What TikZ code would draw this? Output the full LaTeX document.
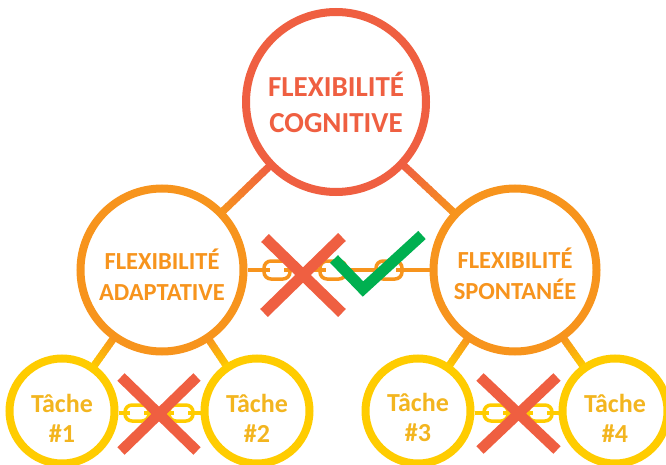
\documentclass[tikz,border=0pt]{standalone}
\usepackage{fontspec}
\setmainfont{Carlito}
\usetikzlibrary{calc,backgrounds}

\definecolor{cogred}{HTML}{EF5F41}
\definecolor{flexorange}{HTML}{F7941D}
\definecolor{taskyellow}{HTML}{FFCC00}
\definecolor{taskgold}{HTML}{F3B51F}
\definecolor{okgreen}{HTML}{00B050}

% invisible strut to push a first line down
\newcommand{\tallline}[1]{\rule{0pt}{#1}}

% shaded bar from node #1 (radius #2) to node #3 (radius #4), colour #5 to #6
\newcommand{\bond}[6]{%
  \coordinate (bA) at ($(#1)!#2!(#3)$);
  \coordinate (bB) at ($(#3)!#4!(#1)$);
  \foreach \k in {0,...,11}{
    \pgfmathtruncatemacro\pc{100*\k/11}
    \draw[line width=7.5pt,draw=#6!\pc!#5]
      ($(bA)!\k/12!(bB)$) -- ($(bA)!\k/12+0.1!(bB)$);
  }
}

\begin{document}
\begin{tikzpicture}[x=1pt,y=-1pt,
  every node/.style={font=\bfseries},
  bubble/.style={circle,draw,line width=8pt,fill=white,align=center,inner sep=0pt},
  cogbubble/.style={bubble,draw=cogred,text=cogred,minimum size=180pt,
    font=\bfseries\fontsize{29}{36}\selectfont},
  flexbubble/.style={bubble,draw=flexorange,text=flexorange,minimum size=163pt,
    font=\bfseries\fontsize{24.5}{31}\selectfont},
  taskbubble/.style={bubble,draw=taskyellow,text=taskgold,minimum size=105pt,
    font=\bfseries\fontsize{26}{30}\selectfont},
  link/.style={rectangle,rounded corners=7pt,draw,fill=white,line width=3.5pt,
    minimum width=26pt,minimum height=18pt,inner sep=0pt},
  smalllink/.style={link,minimum width=24pt,minimum height=16pt},
  chainline/.style={line width=3.5pt},
  markline/.style={line width=11pt,cogred}
]
  \useasboundingbox (0,0) rectangle (666,465);

  \node[cogbubble] (cog) at (336,102) {FLEXIBILITÉ\\COGNITIVE};
  \node[flexbubble] (ada) at (162,270) {\tallline{29pt}FLEXIBILITÉ\\ADAPTATIVE};
  \node[flexbubble] (spo) at (515,270) {\tallline{29pt}FLEXIBILITÉ\\SPONTANÉE};
  \node[taskbubble] (t1) at (62,411) {\tallline{32pt}Tâche\\\#1};
  \node[taskbubble] (t2) at (257,411) {\tallline{32pt}Tâche\\\#2};
  \node[taskbubble] (t3) at (418,411) {\tallline{32pt}Tâche\\\#3};
  \node[taskbubble] (t4) at (615,411) {\tallline{32pt}Tâche\\\#4};

  \begin{scope}[on background layer]
    \bond{cog}{90pt}{ada}{81pt}{cogred}{flexorange}
    \bond{cog}{90pt}{spo}{81pt}{cogred}{flexorange}
    \bond{ada}{81pt}{t1}{52pt}{flexorange}{taskyellow}
    \bond{ada}{81pt}{t2}{52pt}{flexorange}{taskyellow}
    \bond{spo}{81pt}{t3}{52pt}{flexorange}{taskyellow}
    \bond{spo}{81pt}{t4}{52pt}{flexorange}{taskyellow}
    \draw[chainline,flexorange] (ada) -- (spo);
    \draw[chainline,taskyellow] ([yshift=-2pt]t1.east) -- ([yshift=-2pt]t2.west);
    \draw[chainline,taskyellow] ([yshift=-2pt]t3.east) -- ([yshift=-2pt]t4.west);
  \end{scope}

  % chain links
  \node[link,draw=flexorange] (m1) at (277,270) {};
  \node[link,draw=flexorange] (m2) at (333,270) {};
  \node[link,draw=flexorange] (m3) at (389,270) {};
  \foreach \l in {m1,m2,m3}
    \draw[chainline,flexorange] (\l.west) -- ++(8,0) (\l.east) -- ++(-8,0);
  \node[smalllink,draw=taskyellow] (a1) at (137,413) {};
  \node[smalllink,draw=taskyellow] (a2) at (181,413) {};
  \node[smalllink,draw=taskyellow] (s1) at (496,413) {};
  \node[smalllink,draw=taskyellow] (s2) at (540,413) {};
  \foreach \l in {a1,a2,s1,s2}
    \draw[chainline,taskyellow] (\l.west) -- ++(7,0) (\l.east) -- ++(-7,0);

  % crosses and tick
  \draw[markline] (265,238) -- (342,313) (342,237) -- (264,313);
  \draw[markline,line width=10.5pt] (121,377) -- (197,451) (197,377) -- (121,451);
  \draw[markline,line width=10.5pt] (480,377) -- (557,450) (557,377) -- (480,450);
  \draw[markline,okgreen,miter limit=4] (334,259) -- (363,289) -- (422,235);
\end{tikzpicture}
\end{document}
